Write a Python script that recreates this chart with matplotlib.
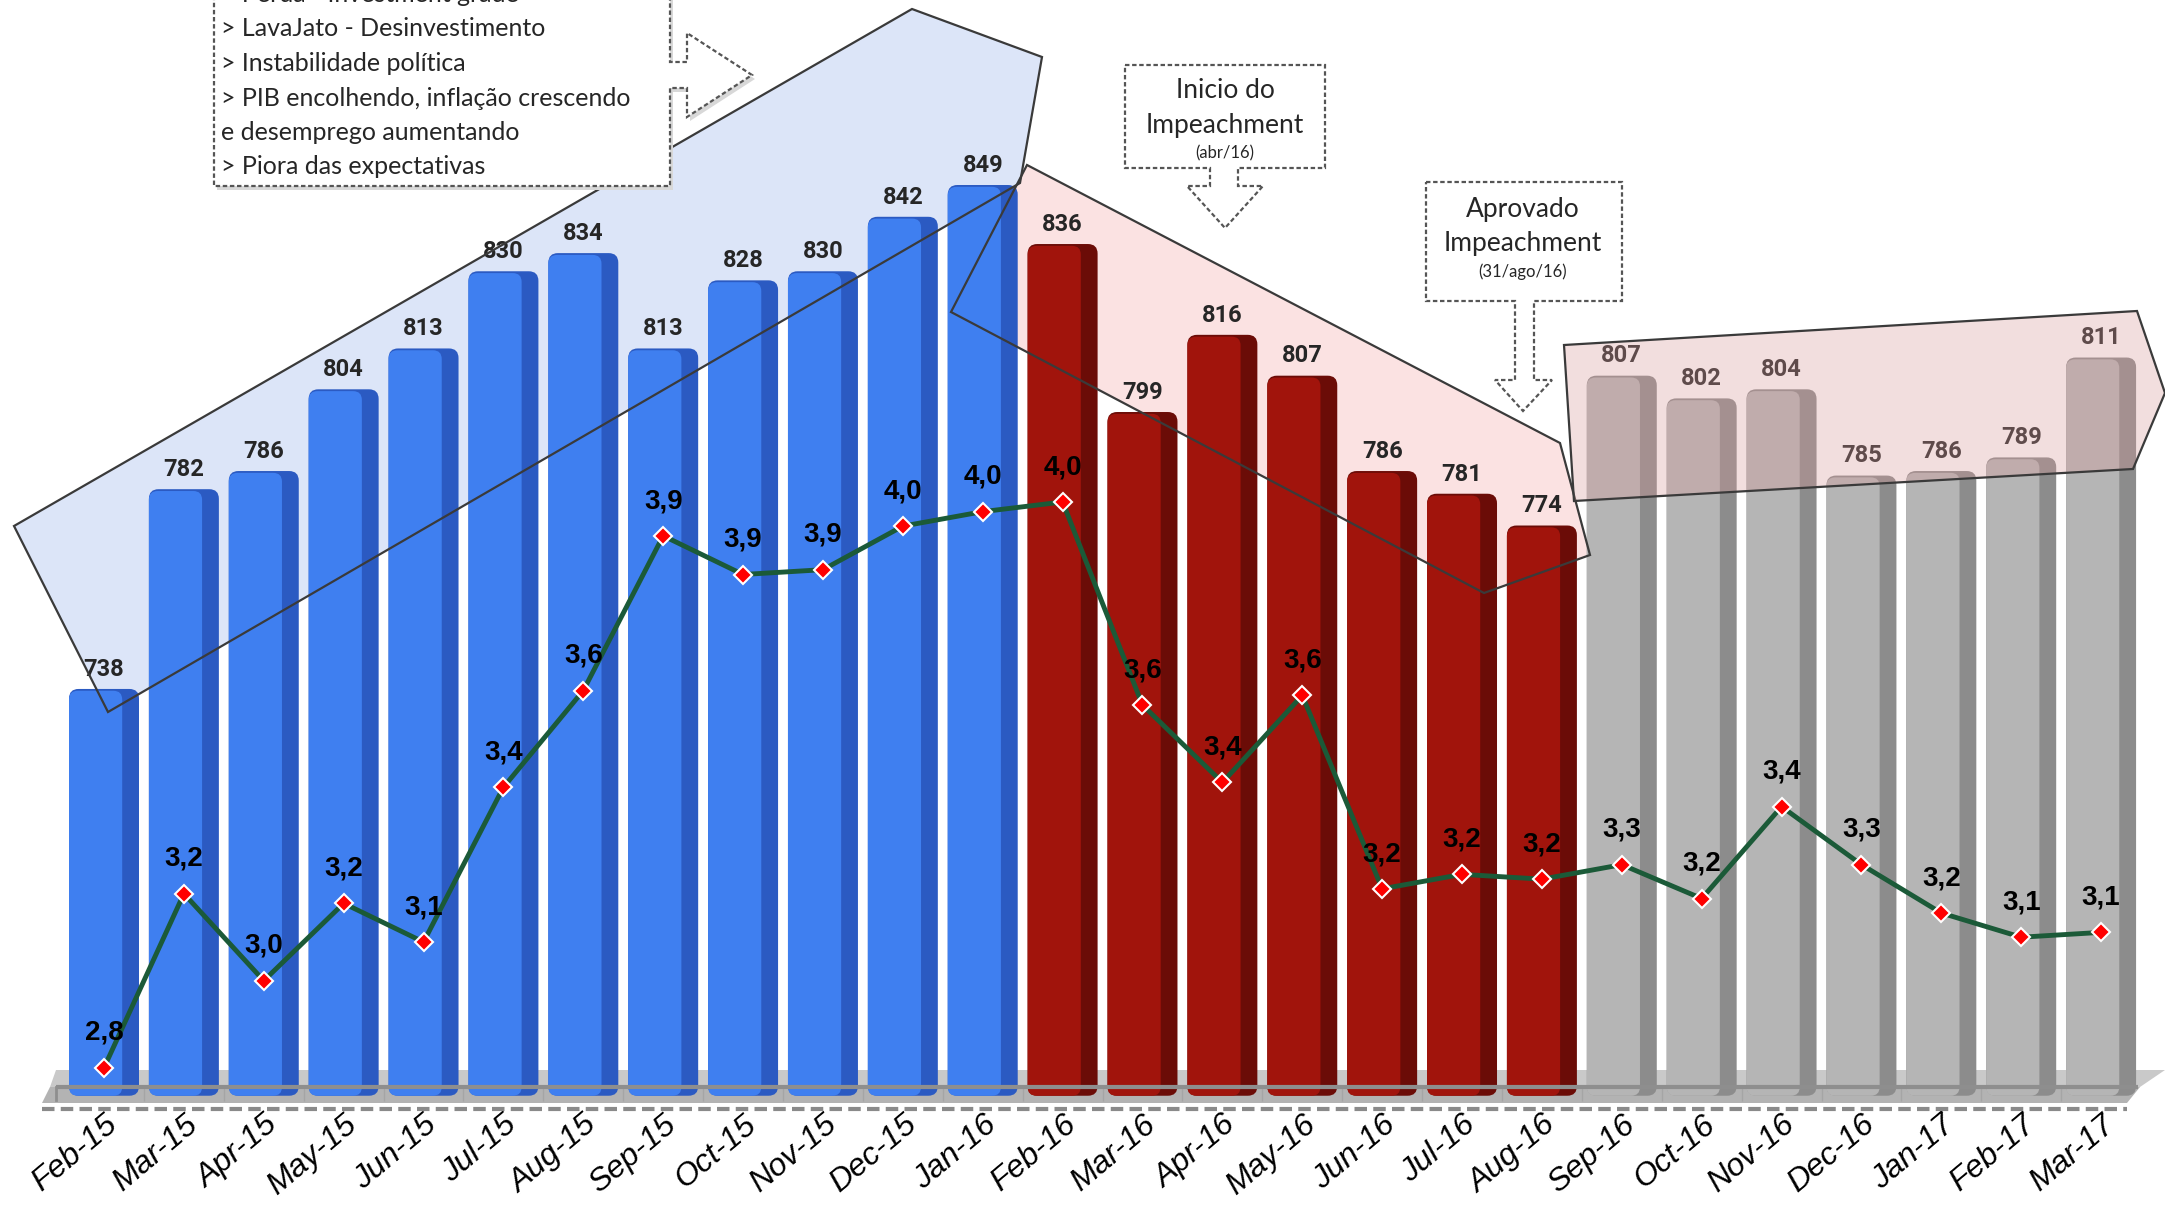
import matplotlib
matplotlib.use("Agg")
import matplotlib.pyplot as plt
from matplotlib.patches import FancyBboxPatch, Polygon

# data
months = ["Feb-15", "Mar-15", "Apr-15", "May-15", "Jun-15", "Jul-15", "Aug-15",
          "Sep-15", "Oct-15", "Nov-15", "Dec-15", "Jan-16", "Feb-16", "Mar-16",
          "Apr-16", "May-16", "Jun-16", "Jul-16", "Aug-16", "Sep-16", "Oct-16",
          "Nov-16", "Dec-16", "Jan-17", "Feb-17", "Mar-17"]
bar_vals = [738, 782, 786, 804, 813, 830, 834, 813, 828, 830, 842, 849,
            836, 799, 816, 807, 786, 781, 774,
            807, 802, 804, 785, 786, 789, 811]
line_vals = [2.84, 3.20, 3.02, 3.18, 3.10, 3.42, 3.62, 3.94, 3.86, 3.87, 3.96, 3.99,
             4.01, 3.59, 3.43, 3.61, 3.21, 3.24, 3.23,
             3.26, 3.19, 3.38, 3.26, 3.16, 3.11, 3.12]
# period of each month: 0 = before, 1 = impeachment, 2 = after
period = [0]*12 + [1]*7 + [2]*7

box1_lines = ["> Perda - Investment grade",
              "> LavaJato - Desinvestimento",
              "> Instabilidade política",
              "> PIB encolhendo, inflação crescendo",
              "e desemprego aumentando",
              "> Piora das expectativas"]

face_cols = ["#3f7ff0", "#a1140c", "#b5b5b5"]
side_cols = ["#2b5ac2", "#6b0c07", "#8c8c8c"]

W, H = 2165, 1208
fig = plt.figure(figsize=(W/100, H/100), dpi=100)

# back layer (pixel coords)
back = fig.add_axes([0, 0, 1, 1], zorder=1)
back.set_xlim(0, W); back.set_ylim(H, 0); back.axis("off")

# bars
ax = fig.add_axes([0, 100/H, 1, 1108/H], zorder=2)
ax.patch.set_visible(False)
ax.set_xlim(-1.302, 25.80)
ax.set_ylim(645.7, 889.75)
for s in ax.spines.values():
    s.set_visible(False)
ax.set_yticks([])

x = list(range(len(months)))
base = 648.4
bw = 0.876
asp = (1/4.54) / (1/79.9)
for i, v in enumerate(bar_vals):
    p = period[i]
    side = FancyBboxPatch((i - bw/2, base), bw, v - base,
                          boxstyle="round,pad=0,rounding_size=0.12",
                          mutation_aspect=asp, fc=side_cols[p], ec="none")
    face = FancyBboxPatch((i - bw/2, base), bw*0.76, v - base - 0.4,
                          boxstyle="round,pad=0,rounding_size=0.11",
                          mutation_aspect=asp, fc=face_cols[p], ec="none")
    ax.add_patch(side)
    ax.add_patch(face)
    ax.annotate(str(v), (i, v), xytext=(0, 9.5), textcoords="offset points",
                ha="center", va="baseline", fontsize=17, fontweight="bold",
                color="#262626", family="Roboto")

ax.set_xticks(x)
ax.set_xticklabels(months, rotation=40, ha="right", rotation_mode="anchor",
                   fontsize=23, fontstyle="italic", family="Liberation Sans")
ax.tick_params(axis="x", length=0, pad=1)
ax.vlines([i + 0.5 for i in x[:-1]], 0.006, 0.019, transform=ax.get_xaxis_transform(),
          color="#a5a5a5", lw=1, zorder=0)

# floor and region fills behind the bars
back.add_patch(Polygon([(56, 1070), (2165, 1070), (2140, 1087), (50, 1087)],
                       fc="#c9c9c9", ec="none"))
back.add_patch(Polygon([(50, 1087), (2140, 1087), (2127, 1103), (42, 1103)],
                       fc="#b3b3b3", ec="none"))
blue_poly = [(14, 526), (912, 9), (1042, 57), (1020, 183), (108, 712)]
mid_poly = [(1027, 165), (1560, 443), (1590, 555), (1484, 593), (951, 312)]
right_poly = [(1564, 345), (2137, 311), (2165, 393), (2133, 469), (1574, 501)]
back.add_patch(Polygon(blue_poly, fc="#dce5f8", ec="none"))
back.add_patch(Polygon(mid_poly, fc="#fbe2e2", ec="none"))

# front layer
front = fig.add_axes([0, 0, 1, 1], zorder=3)
front.patch.set_visible(False)
front.set_xlim(0, W); front.set_ylim(H, 0); front.axis("off")

front.plot([56, 2138], [1087, 1087], color="#8e8e8e", lw=3, solid_capstyle="butt")
front.plot([56, 56], [1087, 1100], color="#8e8e8e", lw=2)
front.plot([42, 2127], [1109, 1109], color="#8a8a8a", lw=3, dashes=(3, 1.5))

front.add_patch(Polygon(blue_poly, fc="none", ec="#3a3a3a", lw=1.6))
front.add_patch(Polygon(mid_poly, fc="none", ec="#3a3a3a", lw=1.6))
front.add_patch(Polygon(right_poly, fc="#d89a9a", alpha=0.32, ec="none"))
front.add_patch(Polygon(right_poly, fc="none", ec="#3a3a3a", lw=1.6))

dash = (0, (2, 1.2))
box1 = [(214, -10), (670, -10), (670, 62), (687, 62), (687, 33), (752, 75),
        (687, 117), (687, 88), (670, 88), (670, 186), (214, 186)]
front.add_patch(Polygon([(px + 3, py + 4) for px, py in box1], fc="#d8d8d8", ec="none"))
front.add_patch(Polygon(box1, fc="white", ec="#555555", lw=1.6, ls=dash))
for k, t in enumerate(box1_lines):
    front.text(221, 2 + k*34.5, t, fontsize=18, family="Lato", color="#262626",
               ha="left", va="baseline")

box2 = [(1125, 65), (1325, 65), (1325, 168), (1238, 168), (1238, 186), (1263, 186),
        (1225, 228), (1187, 186), (1210, 186), (1210, 168), (1125, 168)]
front.add_patch(Polygon(box2, fc="white", ec="#555555", lw=1.6, ls=dash))
front.text(1225, 91, "Inicio do", fontsize=19, family="Lato", color="#262626",
           ha="center", va="center")
front.text(1225, 126, "Impeachment", fontsize=19, family="Lato", color="#262626",
           ha="center", va="center")
front.text(1225, 153, "(abr/16)", fontsize=12, family="Lato", color="#262626",
           ha="center", va="center")

box3 = [(1426, 182), (1622, 182), (1622, 301), (1534, 301), (1534, 380), (1552, 380),
        (1523, 411), (1495, 380), (1515, 380), (1515, 301), (1426, 301)]
front.add_patch(Polygon(box3, fc="white", ec="#555555", lw=1.6, ls=dash))
front.text(1523, 210, "Aprovado", fontsize=19, family="Lato", color="#262626",
           ha="center", va="center")
front.text(1523, 244, "Impeachment", fontsize=19, family="Lato", color="#262626",
           ha="center", va="center")
front.text(1523, 272, "(31/ago/16)", fontsize=12, family="Lato", color="#262626",
           ha="center", va="center")

# line on top
ax2 = fig.add_axes([0, 100/H, 1, 1108/H], zorder=4)
ax2.patch.set_visible(False)
ax2.axis("off")
ax2.set_xlim(-1.302, 25.80)
ax2.set_ylim(2.7568, 5.048)
ax2.plot(x, line_vals, color="#1b5a38", lw=3.5)
ax2.plot(x, line_vals, "D", ms=9.5, mfc="#ff0000", mec="white", mew=1.5)
for i, v in enumerate(line_vals):
    ax2.annotate(f"{v:.1f}".replace(".", ","), (i, v), xytext=(0, 20),
                 textcoords="offset points", ha="center", va="baseline",
                 fontsize=20, fontweight="bold", color="black",
                 family=["Liberation Sans Narrow", "Liberation Sans"])

fig.savefig("out.png", dpi=100, facecolor="white")
